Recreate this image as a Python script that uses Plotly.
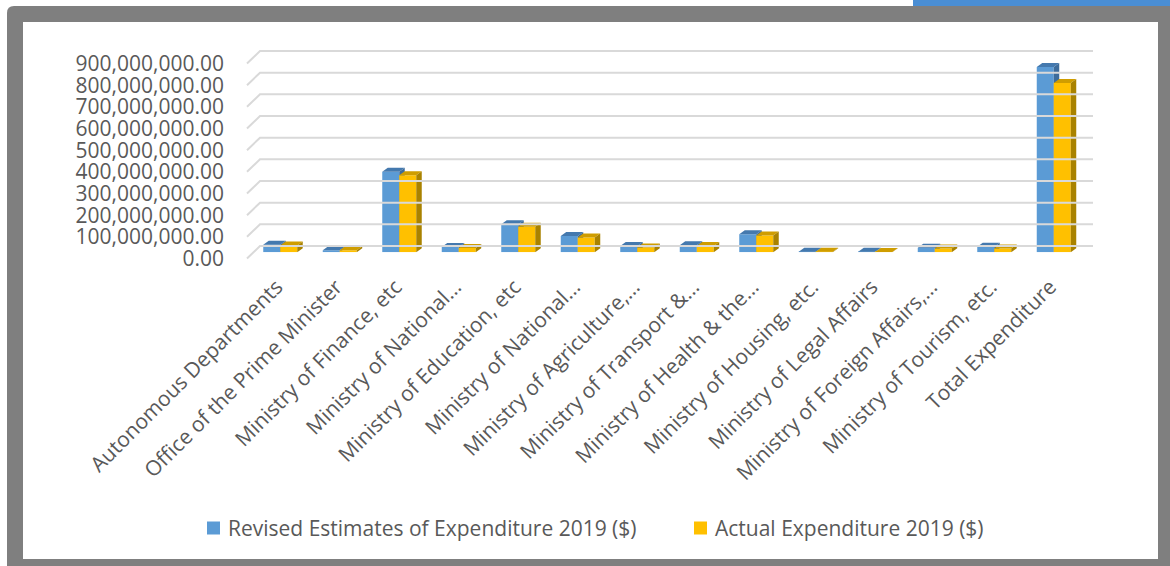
import plotly.graph_objects as go

# ---- data -------------------------------------------------------------
categories = [
    "Autonomous Departments",
    "Office of the Prime Minister",
    "Ministry of Finance, etc",
    "Ministry of National…",
    "Ministry of Education, etc",
    "Ministry of National…",
    "Ministry of Agriculture,…",
    "Ministry of Transport &…",
    "Ministry of Health & the…",
    "Ministry of Housing, etc.",
    "Ministry of Legal Affairs",
    "Ministry of Foreign Affairs,…",
    "Ministry of Tourism, etc.",
    "Total Expenditure",
]
revised_2019 = [35e6, 10e6, 372e6, 24e6, 129e6, 75e6, 29e6, 32e6, 83e6,
                3e6, 2e6, 21e6, 26e6, 855e6]
actual_2019 = [31e6, 9e6, 356e6, 20e6, 118e6, 68e6, 22e6, 29e6, 78e6,
               2.5e6, 1.5e6, 17e6, 18e6, 781e6]
y_ticks = [i * 100e6 for i in range(10)]

series_names = ["Revised Estimates of Expenditure 2019 ($)",
                "Actual Expenditure 2019 ($)"]

# ---- geometry (pixels) ------------------------------------------------
W, H = 1170, 566
FX0, FX1 = 247, 1080          # front plane, horizontal extent
FY0, FYT = 258.5, 63.5        # front plane, y of 0 and of the top tick
BACK_DX, BACK_DY = 13, 12.5   # back wall offset (right, up)
BAR_DX, BAR_DY = 3.5, 6.2     # plane of the column fronts
COL_DX, COL_DY = 5.5, 4       # column depth (right, up)
PAD = 3

n = len(categories)
YMAX = y_ticks[-1]
CW = (FX1 - FX0) / n          # px per category
VP = (FY0 - FYT) / YMAX       # px per value unit


def xd(a, b):
    return [a / W, b / W]


def yd(top, bottom):
    return [1 - bottom / H, 1 - top / H]


TEXT = "#595959"
FONT = "Open Sans"
BLUE, BLUE_TOP, BLUE_SIDE = "#5b9bd5", "#4479ae", "#3d6c9b"
GOLD, GOLD_TOP, GOLD_SIDE = "#ffc000", "#cf9d00", "#a98200"

fig = go.Figure()

# back wall gridlines with the diagonal floor edge on the left
gx, gy = [], []
for v in y_ticks:
    gx += [-0.5 - BACK_DX / CW, -0.5, n - 0.5, None]
    gy += [v - BACK_DY / VP, v, v, None]
fig.add_trace(go.Scatter(x=gx, y=gy, mode="lines", xaxis="x3", yaxis="y3",
                         line=dict(color="#d9d9d9", width=2),
                         hoverinfo="skip", showlegend=False))

# invisible trace so the front axes carry the tick labels
fig.add_trace(go.Scatter(x=[0, n - 1], y=[0, YMAX], mode="markers",
                         marker=dict(opacity=0), hoverinfo="skip",
                         showlegend=False))

BW = 17 / CW
DX, DY = COL_DX / CW, COL_DY / VP


def columns(values, offset, name, front, top, side, xa, ya):
    fig.add_trace(go.Bar(
        x=list(range(n)), y=values, name=name, width=BW, offset=offset,
        marker=dict(color=front, line=dict(width=0)),
        xaxis=xa, yaxis=ya, showlegend=False))
    tx, ty, sx, sy = [], [], [], []
    for i, h in enumerate(values):
        xl = i + offset
        xr = xl + BW
        tx += [xl, xr, xr + DX, xl + DX, xl, None]
        ty += [h, h, h + DY, h + DY, h, None]
        sx += [xr, xr, xr + DX, xr + DX, xr, None]
        sy += [0, h, h + DY, DY, 0, None]
    for px_, py_, c in ((tx, ty, top), (sx, sy, side)):
        fig.add_trace(go.Scatter(
            x=px_, y=py_, mode="lines", fill="toself", fillcolor=c,
            line=dict(width=0, color=c), xaxis=xa, yaxis=ya,
            hoverinfo="skip", showlegend=False))


columns(revised_2019, -BW, series_names[0], BLUE, BLUE_TOP, BLUE_SIDE,
        "x2", "y2")
columns(actual_2019, 0, series_names[1], GOLD, GOLD_TOP, GOLD_SIDE,
        "x4", "y4")

hidden = dict(visible=False, fixedrange=True)
bar_y_range = [0, YMAX]

fig.update_layout(
    width=W, height=H, template="none",
    margin=dict(l=0, r=0, t=0, b=0),
    paper_bgcolor="white", plot_bgcolor="rgba(0,0,0,0)",
    font=dict(family=FONT, color=TEXT, size=21),
    barmode="overlay", showlegend=False,
    xaxis=dict(domain=xd(FX0, FX1), range=[-0.5, n - 0.5],
               tickmode="array", tickvals=list(range(n)),
               ticktext=categories, tickangle=-45,
               showgrid=False, zeroline=False, showline=False,
               ticks="", automargin=False, fixedrange=True,
               ticklabelstandoff=11,
               tickfont=dict(family=FONT, color=TEXT, size=21)),
    yaxis=dict(domain=yd(FYT, FY0), range=[0, YMAX],
               tickmode="array", tickvals=y_ticks, tickformat=",.2f",
               showgrid=False, zeroline=False, showline=False,
               ticks="", automargin=False, fixedrange=True,
               ticklabelstandoff=22,
               tickfont=dict(family=FONT, color=TEXT, size=21)),
    xaxis2=dict(anchor="y2", domain=xd(FX0 + BAR_DX, FX1 + BAR_DX),
                range=[-0.5, n - 0.5], **hidden),
    yaxis2=dict(anchor="x2", domain=yd(FYT - BAR_DY, FY0 - BAR_DY),
                range=bar_y_range, **hidden),
    xaxis4=dict(anchor="y4", overlaying="x2", range=[-0.5, n - 0.5],
                **hidden),
    yaxis4=dict(anchor="x4", overlaying="y2", range=bar_y_range, **hidden),
    xaxis3=dict(anchor="y3",
                domain=xd(FX0 - PAD, FX1 + BACK_DX + PAD),
                range=[-0.5 - (BACK_DX + PAD) / CW, n - 0.5 + PAD / CW],
                **hidden),
    yaxis3=dict(anchor="x3",
                domain=yd(FYT - BACK_DY - PAD, FY0 + PAD),
                range=[-(BACK_DY + PAD) / VP, YMAX + PAD / VP],
                **hidden),
)

# chart frame: blue tab, grey border, white panel
fig.add_shape(type="rect", xref="paper", yref="paper", layer="below",
              x0=913 / W, x1=1.0, y0=1 - 8 / H, y1=1.0,
              fillcolor="#4a8ed4", line=dict(width=0))
fig.add_shape(type="path", xref="paper", yref="paper", layer="below",
              path=(f"M {7 / W},0 L {7 / W},{1 - 13 / H} "
                    f"Q {7 / W},{1 - 6 / H} {14 / W},{1 - 6 / H} "
                    f"L 1,{1 - 6 / H} L 1,0 Z"),
              fillcolor="#7f7f7f", line=dict(width=0))
fig.add_shape(type="rect", xref="paper", yref="paper", layer="below",
              x0=23 / W, x1=1158 / W, y0=1 - 559 / H, y1=1 - 22 / H,
              fillcolor="white", line=dict(width=0))

# legend: colour key square followed by the series name
LEG_Y = 528
for name, color, sq_x in ((series_names[0], BLUE, 207),
                          (series_names[1], GOLD, 694)):
    fig.add_shape(type="rect", xref="paper", yref="paper",
                  x0=sq_x / W, x1=(sq_x + 13) / W,
                  y0=1 - (LEG_Y + 6.5) / H, y1=1 - (LEG_Y - 6.5) / H,
                  fillcolor=color, line=dict(width=0))
    fig.add_annotation(text=name, xref="paper", yref="paper",
                       x=(sq_x + 19) / W, y=1 - LEG_Y / H,
                       xanchor="left", yanchor="middle", showarrow=False,
                       font=dict(family=FONT, size=21, color=TEXT))

fig.write_html("out.html")
